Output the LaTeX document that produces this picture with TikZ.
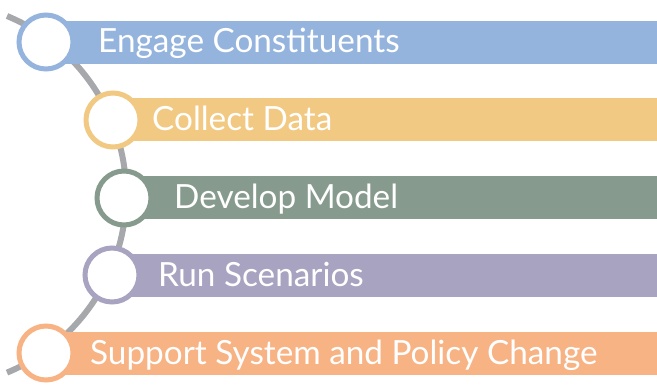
\documentclass[tikz,border=0pt]{standalone}
\usepackage{fontspec}
\setmainfont{Lato}
\usepackage{tikz}

\definecolor{step blue}{HTML}{95B4DD}
\definecolor{step yellow}{HTML}{F2C983}
\definecolor{step green}{HTML}{869B8D}
\definecolor{step purple}{HTML}{A7A3C1}
\definecolor{step orange}{HTML}{F7B384}
\definecolor{track gray}{HTML}{A6A8AB}

\begin{document}
\begin{tikzpicture}[
  x=1pt, y=-1pt,
  track/.style={
    draw=track gray,
    line width=6pt,
  },
  stage bar/.style={
    fill=#1,
  },
  stage ring/.style={
    circle,
    draw=#1,
    fill=white,
    line width=5pt,
    minimum size=54pt,
    inner sep=0pt,
  },
  stage text/.style={
    anchor=base west,
    inner sep=0pt,
    text=white,
    font=\fontsize{33.3}{40}\selectfont,
  },
  ]
  \useasboundingbox (0,0) rectangle (657,384);

  % the gray track behind the rings
  \draw [track] (7,16) arc [start angle=67.5, end angle=-67.5, radius=193pt];

  % bars
  \fill [stage bar=step blue]   (46,21)  rectangle (657,64);
  \fill [stage bar=step yellow] (113,98) rectangle (657,141);
  \fill [stage bar=step green]  (124,176) rectangle (657,219);
  \fill [stage bar=step purple] (112,254) rectangle (657,297);
  \fill [stage bar=step orange] (46,332) rectangle (657,375);

  % rings
  \node [stage ring=step blue]   (ring-engage)   at (46,42)  {};
  \node [stage ring=step yellow] (ring-collect)  at (113,120) {};
  \node [stage ring=step green]  (ring-develop)  at (124,198) {};
  \node [stage ring=step purple] (ring-run)      at (112,275) {};
  \node [stage ring=step orange] (ring-support)  at (46,353) {};

  % labels
  \node [stage text] (text-engage)  at (98,52)  {Engage Constituents};
  \node [stage text] (text-collect) at (152,130) {Collect Data};
  \node [stage text] (text-develop) at (174,208) {Develop Model};
  \node [stage text] (text-run)     at (158,286) {Run Scenarios};
  \node [stage text] (text-support) at (90,364) {Support System and Policy Change};
\end{tikzpicture}
\end{document}
